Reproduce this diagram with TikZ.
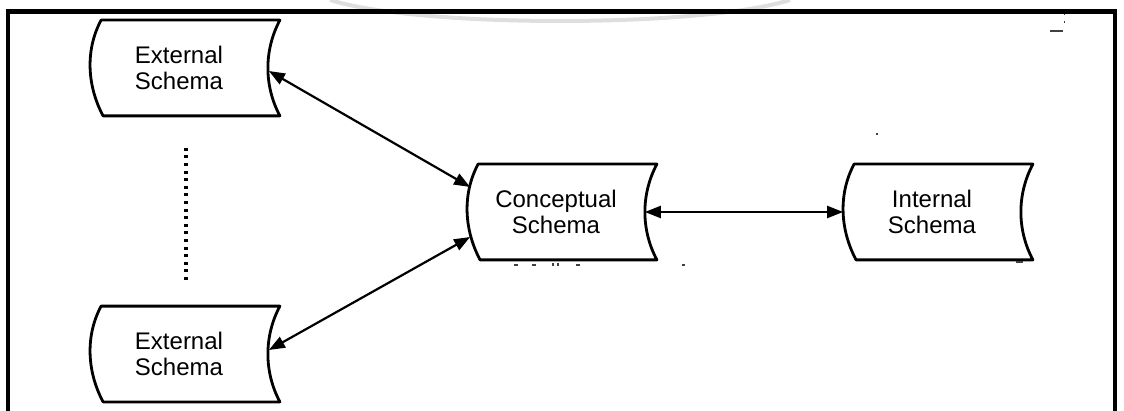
\documentclass[tikz,border=0pt]{standalone}
\usepackage{fontspec}
\setmainfont{Liberation Sans}
\usetikzlibrary{calc,arrows.meta}

% Outline of a "stored data" box: straight top and bottom,
% both sides bowed to the left.
\newcommand\schemaoutline[1]{%
  \draw[outline] ($(#1.north west)+(11,0)$) coordinate (#1-nw)
    -- ($(#1.north east)+(12,0)$)
    .. controls +(-16,30) and +(-16,-30) .. ($(#1.south east)+(12,0)$)
    -- ($(#1.south west)+(13,0)$)
    .. controls +(-16,-30) and +(-16,30) .. (#1-nw) -- cycle;}

\begin{document}
\begin{tikzpicture}[x=0.5pt,y=-0.5pt,
  schema/.style={minimum width=88.5pt,minimum height=47.5pt,inner sep=0pt,
    align=center,font=\fontsize{12}{12.6}\selectfont},
  outline/.style={line width=1.4pt,line join=round},
  link/.style={line width=1.1pt,{Triangle[length=8pt,width=6pt]}-{Triangle[length=8pt,width=6pt]}},
  dotline/.style={line width=1.6pt,dash pattern=on 1.5pt off 2.3pt},
  frame/.style={line width=2.2pt},
  speck/.style={fill=black!75,draw=none}]

\useasboundingbox (0,0) rectangle (1124,411);

% faint watermark arc along the top edge
\draw[black!13,line width=2pt] (330,0) .. controls (420,28) and (700,28) .. (790,0);

% frame, open at the bottom
\draw[frame] (8,440) -- (8,11.5) -- (1115,11.5) -- (1115,440);

% schema boxes
\node[schema] (e1) at (179,68)  {External\\Schema};
\node[schema] (e2) at (179,354) {External\\Schema};
\node[schema] (c)  at (556,212) {Conceptual\\Schema};
\node[schema] (i)  at (932,212) {Internal\\Schema};

\schemaoutline{e1}
\schemaoutline{e2}
\schemaoutline{c}
\schemaoutline{i}

% mappings between the levels
\draw[link] ($(e1.east)+(1,3)$) -- ($(c.west)+(3,-25)$);
\draw[link] ($(e2.east)+(1,-4)$) -- ($(c.west)+(3,25)$);
\draw[link] (c.east) -- (i.west);

% further external schemas in between
\draw[dotline] ($(e1.south)+(7,32)$) -- ($(e2.north)+(7,-22)$);

% small specks
\fill[speck] (1050,30) rectangle (1063,31.6);
\fill[speck] (1063.5,14) rectangle (1065,15.5);
\fill[speck] (1063.5,21) rectangle (1065,23);
\fill[speck] (875.5,133) rectangle (877.5,135);
\fill[speck] (514,264.5) rectangle (518,266);
\fill[speck] (532,264.5) rectangle (536,266);
\fill[speck] (552,263) rectangle (554,266);
\fill[speck] (557,263) rectangle (559,266);
\fill[speck] (576,264.5) rectangle (580,266);
\fill[speck] (682,264.5) rectangle (685,266);
\fill[speck] (1016,261.5) rectangle (1023,263);
\end{tikzpicture}
\end{document}
